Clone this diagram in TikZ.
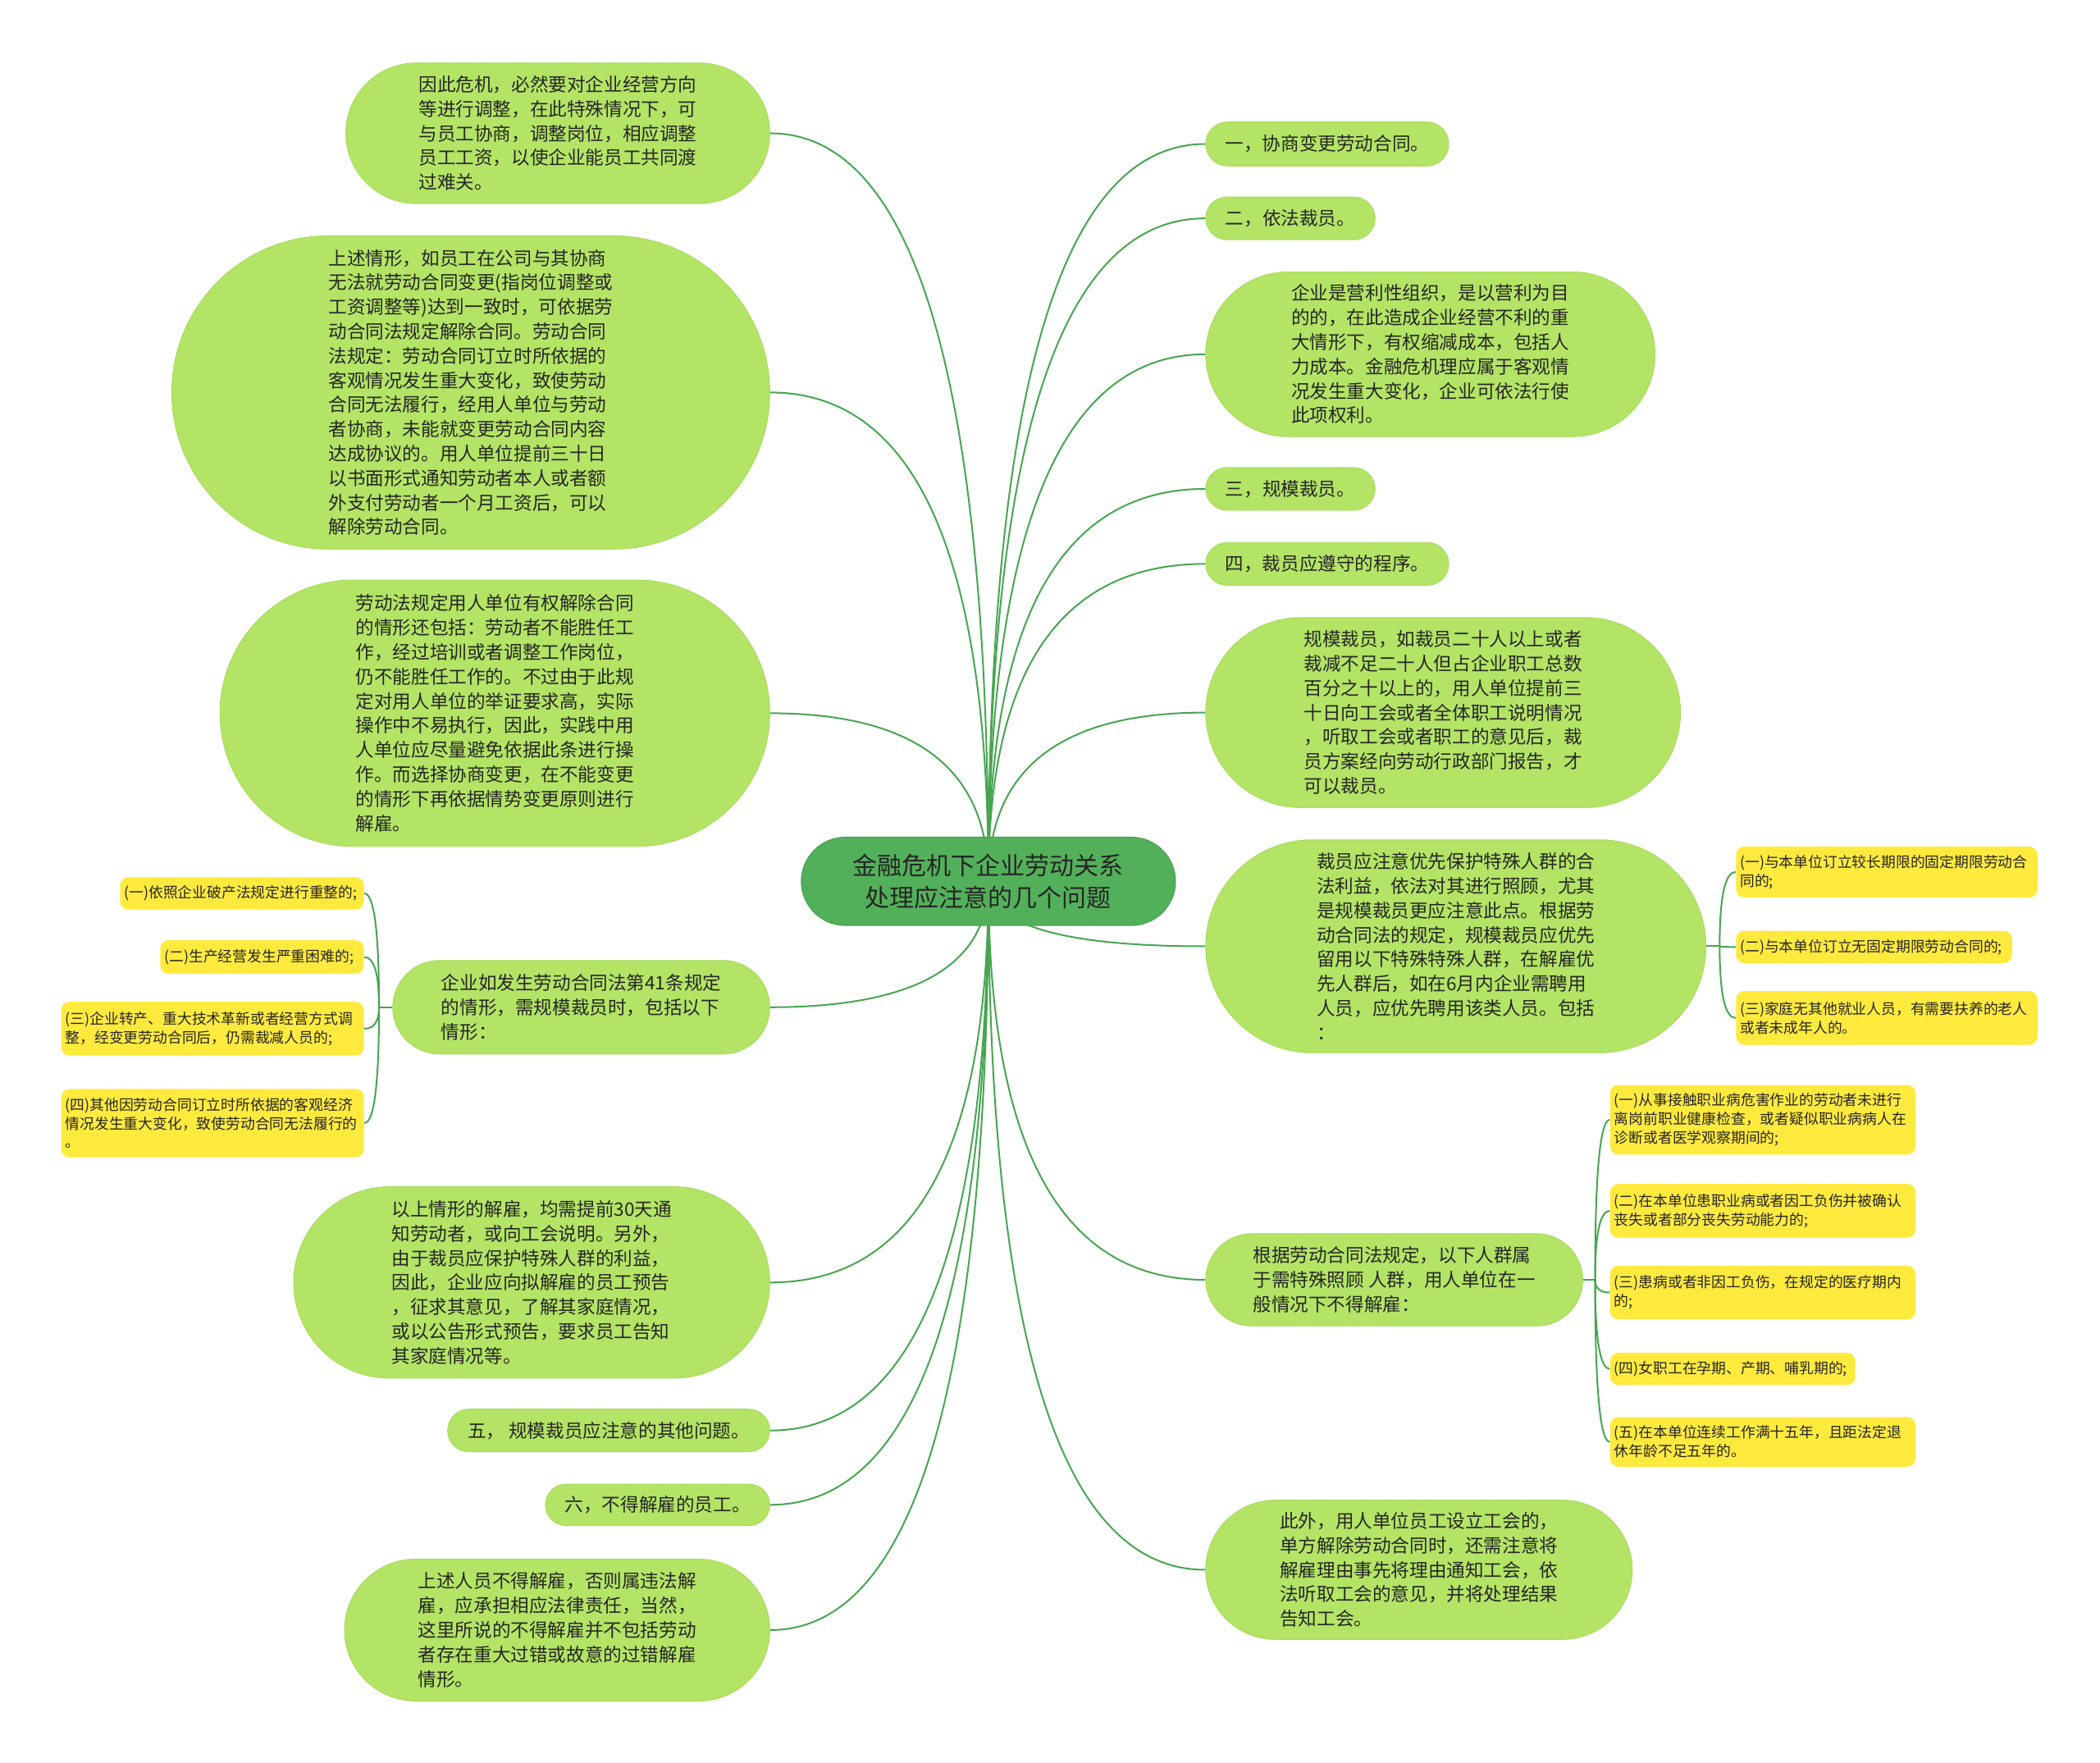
\documentclass[tikz,border=0pt]{standalone}
\usepackage{fontspec}
\setmainfont{Noto Sans CJK SC}
\usepackage{tikz}
\usetikzlibrary{shapes.misc,calc,backgrounds}
\definecolor{rootgreen}{HTML}{53B05A}
\definecolor{rootedge}{HTML}{479A4E}
\definecolor{leafgreen}{HTML}{B3E465}
\definecolor{leafedge}{HTML}{A6DA58}
\definecolor{notey}{HTML}{FFEA3D}
\definecolor{branchc}{HTML}{47A552}
\definecolor{ink}{HTML}{262626}

\begin{document}
\begin{tikzpicture}[x=0.8163pt,y=-0.8163pt,
    topic/.style={rounded rectangle, fill=leafgreen, draw=leafedge, line width=0.4pt,
      inner xsep=1pt, inner ysep=2pt, align=left, text=ink,
      font=\fontsize{11.3}{14.9}\selectfont},
    sz/.style 2 args={minimum width=#1pt, minimum height=#2pt},
    note/.style={rectangle, rounded corners=5pt, fill=notey, inner xsep=2.5pt,
      inner ysep=2pt, align=left, text=ink, font=\fontsize{8.9}{11.4}\selectfont},
    branch/.style={draw=branchc, line width=1pt}]
  \useasboundingbox (0,0) rectangle (1568,1316);

  % centre
  \node[topic, fill=rootgreen, draw=rootedge, align=center, sz={230.2}{53.9},
        font=\fontsize{15}{19.6}\selectfont] (root) at (738,658)
        {金融危机下企业劳动关系\\处理应注意的几个问题};

  % left side
  \node[topic, sz={260.4}{85.7}] (L1) at (416.5,99.5)
        {因此危机，必然要对企业经营方向\\等进行调整，在此特殊情况下，可\\与员工协商，调整岗位，相应调整\\员工工资，以使企业能员工共同渡\\过难关。};
  \node[topic, sz={366.5}{191.0}] (L2) at (351.5,293)
        {上述情形，如员工在公司与其协商\\无法就劳动合同变更(指岗位调整或\\工资调整等)达到一致时，可依据劳\\动合同法规定解除合同。劳动合同\\法规定：劳动合同订立时所依据的\\客观情况发生重大变化，致使劳动\\合同无法履行，经用人单位与劳动\\者协商，未能就变更劳动合同内容\\达成协议的。用人单位提前三十日\\以书面形式通知劳动者本人或者额\\外支付劳动者一个月工资后，可以\\解除劳动合同。};
  \node[topic, sz={337.1}{162.4}] (L3) at (369.5,532.5)
        {劳动法规定用人单位有权解除合同\\的情形还包括：劳动者不能胜任工\\作，经过培训或者调整工作岗位，\\仍不能胜任工作的。不过由于此规\\定对用人单位的举证要求高，实际\\操作中不易执行，因此，实践中用\\人单位应尽量避免依据此条进行操\\作。而选择协商变更，在不能变更\\的情形下再依据情势变更原则进行\\解雇。};
  \node[topic, sz={231.8}{57.1}] (L4) at (434,752)
        {企业如发生劳动合同法第41条规定\\的情形，需规模裁员时，包括以下\\情形：};
  \node[topic, sz={292.2}{116.7}] (L5) at (397,957.5)
        {以上情形的解雇，均需提前30天通\\知劳动者，或向工会说明。另外，\\由于裁员应保护特殊人群的利益，\\因此，企业应向拟解雇的员工预告\\，征求其意见，了解其家庭情况，\\或以公告形式预告，要求员工告知\\其家庭情况等。};
  \node[topic, sz={198.4}{26.1}] (L6) at (454.5,1068) {五， 规模裁员应注意的其他问题。};
  \node[topic, sz={138.8}{25.3}] (L7) at (491,1123.5) {六，不得解雇的员工。};
  \node[topic, sz={261.2}{86.5}] (L8) at (416,1217)
        {上述人员不得解雇，否则属违法解\\雇，应承担相应法律责任，当然，\\这里所说的不得解雇并不包括劳动\\者存在重大过错或故意的过错解雇\\情形。};

  \node[note, text width=143.6pt, minimum height=19.6pt, anchor=east] (c1) at (272,667)
        {(一)依照企业破产法规定进行重整的;};
  \node[note, text width=119.1pt, minimum height=20.4pt, anchor=east] (c2) at (272,714.5)
        {(二)生产经营发生严重困难的;};
  \node[note, text width=179.5pt, minimum height=32.7pt, anchor=east] (c3) at (272,768)
        {(三)企业转产、重大技术革新或者经营方式调\\整，经变更劳动合同后，仍需裁减人员的;};
  \node[note, text width=179.5pt, minimum height=41.6pt, anchor=east] (c4) at (272,838.5)
        {(四)其他因劳动合同订立时所依据的客观经济\\情况发生重大变化，致使劳动合同无法履行的\\。};

  % right side
  \node[topic, sz={150.2}{26.9}] (R1) at (991,107.5) {一，协商变更劳动合同。};
  \node[topic, sz={105.3}{26.1}] (R2) at (963.5,163) {二，依法裁员。};
  \node[topic, sz={275.9}{100.4}] (R3) at (1068,264.5)
        {企业是营利性组织，是以营利为目\\的的，在此造成企业经营不利的重\\大情形下，有权缩减成本，包括人\\力成本。金融危机理应属于客观情\\况发生重大变化，企业可依法行使\\此项权利。};
  \node[topic, sz={105.3}{26.1}] (R4) at (963.5,365) {三，规模裁员。};
  \node[topic, sz={150.2}{26.1}] (R5) at (991,421) {四，裁员应遵守的程序。};
  \node[topic, sz={291.4}{115.9}] (R6) at (1077.5,532)
        {规模裁员，如裁员二十人以上或者\\裁减不足二十人但占企业职工总数\\百分之十以上的，用人单位提前三\\十日向工会或者全体职工说明情况\\，听取工会或者职工的意见后，裁\\员方案经向劳动行政部门报告，才\\可以裁员。};
  \node[topic, sz={306.9}{129.8}] (R7) at (1087,706.5)
        {裁员应注意优先保护特殊人群的合\\法利益，依法对其进行照顾，尤其\\是规模裁员更应注意此点。根据劳\\动合同法的规定，规模裁员应优先\\留用以下特殊特殊人群，在解雇优\\先人群后，如在6月内企业需聘用\\人员，应优先聘用该类人员。包括\\：};
  \node[topic, sz={231.8}{56.3}] (R8) at (1041,955.5)
        {根据劳动合同法规定，以下人群属\\于需特殊照顾 人群，用人单位在一\\般情况下不得解雇：};
  \node[topic, sz={262.0}{84.9}] (R9) at (1059.5,1172)
        {此外，用人单位员工设立工会的，\\单方解除劳动合同时，还需注意将\\解雇理由事先将理由通知工会，依\\法听取工会的意见，并将处理结果\\告知工会。};

  \node[note, text width=178.7pt, minimum height=31pt, anchor=west] (r71) at (1296,651)
        {(一)与本单位订立较长期限的固定期限劳动合\\同的;};
  \node[note, text width=163.2pt, minimum height=19.6pt, anchor=west] (r72) at (1296,707)
        {(二)与本单位订立无固定期限劳动合同的;};
  \node[note, text width=178.7pt, minimum height=32.7pt, anchor=west] (r73) at (1296,760)
        {(三)家庭无其他就业人员，有需要扶养的老人\\或者未成年人的。};

  \node[note, text width=181.1pt, minimum height=42.4pt, anchor=west] (r81) at (1202,836)
        {(一)从事接触职业病危害作业的劳动者未进行\\离岗前职业健康检查，或者疑似职业病病人在\\诊断或者医学观察期间的;};
  \node[note, text width=181.1pt, minimum height=32.7pt, anchor=west] (r82) at (1202,904)
        {(二)在本单位患职业病或者因工负伤并被确认\\丧失或者部分丧失劳动能力的;};
  \node[note, text width=181.1pt, minimum height=32.7pt, anchor=west] (r83) at (1202,965)
        {(三)患病或者非因工负伤，在规定的医疗期内\\的;};
  \node[note, text width=144.4pt, minimum height=19.6pt, anchor=west] (r84) at (1202,1022)
        {(四)女职工在孕期、产期、哺乳期的;};
  \node[note, text width=181.1pt, minimum height=30.2pt, anchor=west] (r85) at (1202,1076.5)
        {(五)在本单位连续工作满十五年，且距法定退\\休年龄不足五年的。};

  % connectors
  \begin{scope}[on background layer]
    \fill[white] (0,0) rectangle (1568,1316);
    \foreach \nd in {L1,L2,L3,L4,L5,L6,L7,L8}
      \draw[branch] (root.center) .. controls ($(root.center)!2/3!(root.center |- \nd.east)$)
        and ($(\nd.east)!2/3!(root.center |- \nd.east)$) .. (\nd.east);
    \foreach \nd in {R1,R2,R3,R4,R5,R6,R7,R8,R9}
      \draw[branch] (root.center) .. controls ($(root.center)!2/3!(root.center |- \nd.west)$)
        and ($(\nd.west)!2/3!(root.center |- \nd.west)$) .. (\nd.west);

    \coordinate (j4) at ($(L4.west)+(-10,0)$);
    \coordinate (j7) at ($(R7.east)+(10,0)$);
    \coordinate (j8) at ($(R8.east)+(9,0)$);
    \draw[branch] (L4.west) -- (j4);
    \draw[branch] (R7.east) -- (j7);
    \draw[branch] (R8.east) -- (j8);
    \foreach \nd in {c1,c2,c3,c4}
      \draw[branch] (j4) .. controls ($(j4)!2/3!(j4 |- \nd.east)$)
        and ($(\nd.east)!2/3!(j4 |- \nd.east)$) .. (\nd.east);
    \foreach \nd in {r71,r72,r73}
      \draw[branch] (j7) .. controls ($(j7)!2/3!(j7 |- \nd.west)$)
        and ($(\nd.west)!2/3!(j7 |- \nd.west)$) .. (\nd.west);
    \foreach \nd in {r81,r82,r83,r84,r85}
      \draw[branch] (j8) .. controls ($(j8)!2/3!(j8 |- \nd.west)$)
        and ($(\nd.west)!2/3!(j8 |- \nd.west)$) .. (\nd.west);
  \end{scope}
\end{tikzpicture}
\end{document}
